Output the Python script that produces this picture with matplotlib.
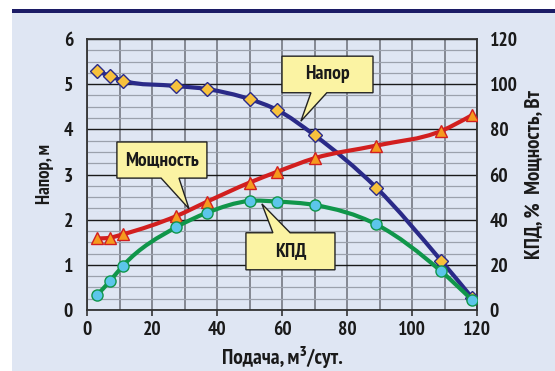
import matplotlib.pyplot as plt
import numpy as np
from matplotlib.path import Path
from matplotlib.patches import PathPatch, Polygon, Rectangle

# Data
supply = [3, 7, 11, 27.5, 37, 50, 58.5, 70, 89, 109, 118.5]          # m3/day
head = [5.30, 5.18, 5.08, 4.96, 4.89, 4.67, 4.43, 3.87, 2.71, 1.09, 0.27]   # m
power = [31.7, 32, 33.5, 41.6, 48, 56.4, 61.2, 67.2, 72.8, 79.3, 86.3]   # W
eff = [6.5, 12.7, 19.5, 36.7, 43.1, 48.3, 48, 46.5, 37.9, 17.1, 4.4]     # %

x_ticks = [0, 20, 40, 60, 80, 100, 120]
left_ticks = [0, 1, 2, 3, 4, 5, 6]
right_ticks = [0, 20, 40, 60, 80, 100, 120]

FONT = ['PT Sans Narrow', 'Roboto Condensed', 'DejaVu Sans']
plt.rcParams['font.family'] = FONT
plt.rcParams['font.weight'] = 'bold'

BG = '#dfe6f3'
NAVY = '#2a2a88'
RED = '#d21f1f'
GREEN = '#10964a'
TXT = '#1a1a1a'


def smooth_path(xs, ys):
    # smoothed line: cubic Hermite in x with three-point slopes, drawn as Beziers
    x = np.asarray(xs, float)
    y = np.asarray(ys, float)
    n = len(x)
    h = np.diff(x)
    d = np.diff(y) / h
    m = np.empty(n)
    m[1:-1] = (d[:-1] * h[1:] + d[1:] * h[:-1]) / (h[:-1] + h[1:])
    m[0] = d[0] - (m[1] - d[0]) * 0.5
    m[-1] = d[-1] + (d[-1] - m[-2]) * 0.5
    verts = [(x[0], y[0])]
    codes = [Path.MOVETO]
    for i in range(n - 1):
        verts += [(x[i] + h[i] / 3, y[i] + m[i] * h[i] / 3),
                  (x[i + 1] - h[i] / 3, y[i + 1] - m[i + 1] * h[i] / 3),
                  (x[i + 1], y[i + 1])]
        codes += [Path.CURVE4] * 3
    return Path(verts, codes)


def callout(ax, text, box, base, tip):
    x0, x1, y0, y1 = box
    bx0, bx1, by = base
    if by == y0:
        pts = [(x0, y0), (bx0, y0), tip, (bx1, y0), (x1, y0), (x1, y1), (x0, y1)]
    else:
        pts = [(x0, y0), (x1, y0), (x1, y1), (bx1, y1), tip, (bx0, y1), (x0, y1)]
    ax.add_patch(Polygon(pts, closed=True, facecolor='#fbf3a3', edgecolor='#222222',
                         lw=1.0, zorder=10, clip_on=False))
    ax.text((x0 + x1) / 2, (y0 + y1) / 2, text, ha='center', va='center',
            fontsize=14, fontweight='bold', color=TXT, zorder=11)


fig = plt.figure(figsize=(5.55, 3.71), dpi=100, facecolor='white')
W, H = 555, 371
# blue panel and navy top rule
fig.patches.append(Rectangle((12 / W, 0), 1, 1 - 12 / H, transform=fig.transFigure,
                             facecolor=BG, edgecolor='none', zorder=-2))
fig.patches.append(Rectangle((12 / W, 1 - 12.5 / H), 1, 3.5 / H, transform=fig.transFigure,
                             facecolor='#1c1c66', edgecolor='none', zorder=-1))

ax = fig.add_axes([87 / W, (H - 310) / H, 390 / W, 271 / H])
ax.set_facecolor(BG)
ax.set_xlim(0, 120)
ax.set_ylim(0, 6)
ax.set_xticks(x_ticks)
ax.set_yticks(left_ticks)
ax.set_xticks(np.arange(0, 121, 10), minor=True)
ax.set_yticks(np.arange(0, 6.01, 0.25), minor=True)
ax.grid(which='minor', axis='y', color='#9ba1ac', lw=0.9)
ax.grid(which='major', axis='y', color='#1a1a1a', lw=1.0)
ax.grid(which='both', axis='x', color='#6b6f78', lw=1.1)
ax.set_axisbelow(True)
ax.tick_params(which='minor', length=0)
ax.tick_params(which='major', direction='out', length=4, width=1.2, color='#333333',
               labelsize=14, labelcolor=TXT, pad=4)
ax.tick_params(axis='y', length=0, pad=10)
for s in ax.spines.values():
    s.set_color('#333333')
    s.set_linewidth(1.3)

ax.add_patch(PathPatch(smooth_path(supply, head), fill=False, edgecolor=NAVY, lw=3.0, zorder=3))
ax.plot(supply, head, ls='none', marker='D', ms=7.5, mfc='#f7c13c', mec=NAVY, mew=1.0, zorder=4)

ax2 = ax.twinx()
ax2.set_ylim(0, 120)
ax2.set_yticks(right_ticks)
ax2.patch.set_visible(False)
ax2.tick_params(axis='y', length=0, labelsize=14, labelcolor=TXT, pad=9)
for s in ax2.spines.values():
    s.set_visible(False)

ax2.add_patch(PathPatch(smooth_path(supply, power), fill=False, edgecolor=RED, lw=3.0, zorder=3))
ax2.plot(supply, power, ls='none', marker='^', ms=9, mfc='#f59a1e', mec=RED, mew=1.0, zorder=4)
ax2.add_patch(PathPatch(smooth_path(supply, eff), fill=False, edgecolor=GREEN, lw=3.0, zorder=5))
ax2.plot(supply, eff, ls='none', marker='o', ms=8, mfc='#5cc6ea', mec=GREEN, mew=1.0, zorder=6)

ax.set_ylabel('Напор, м', fontsize=13.5, fontweight='bold', color=TXT, labelpad=7)
ax.set_xlabel('Подача, м³/сут.', fontsize=15.5, fontweight='bold', color=TXT, labelpad=5)
ax2.set_ylabel('КПД, %  Мощность, Вт', fontsize=15, fontweight='bold', color=TXT,
               labelpad=5)

# callouts in right-axis units (left value * 20)
callout(ax2, 'Мощность', (9.2, 36.9, 58.4, 74.4), (22.8, 28.3, 58.4), (31.4, 44.8))
callout(ax2, 'КПД', (48.9, 76.3, 17.8, 34.2), (57.2, 62.5, 34.2), (53.8, 47.0))
callout(ax2, 'Напор', (60.0, 88.0, 96.2, 112.4), (68.9, 73.8, 96.2), (65.8, 83.6))

fig.savefig('out.png', dpi=100, facecolor='white')
